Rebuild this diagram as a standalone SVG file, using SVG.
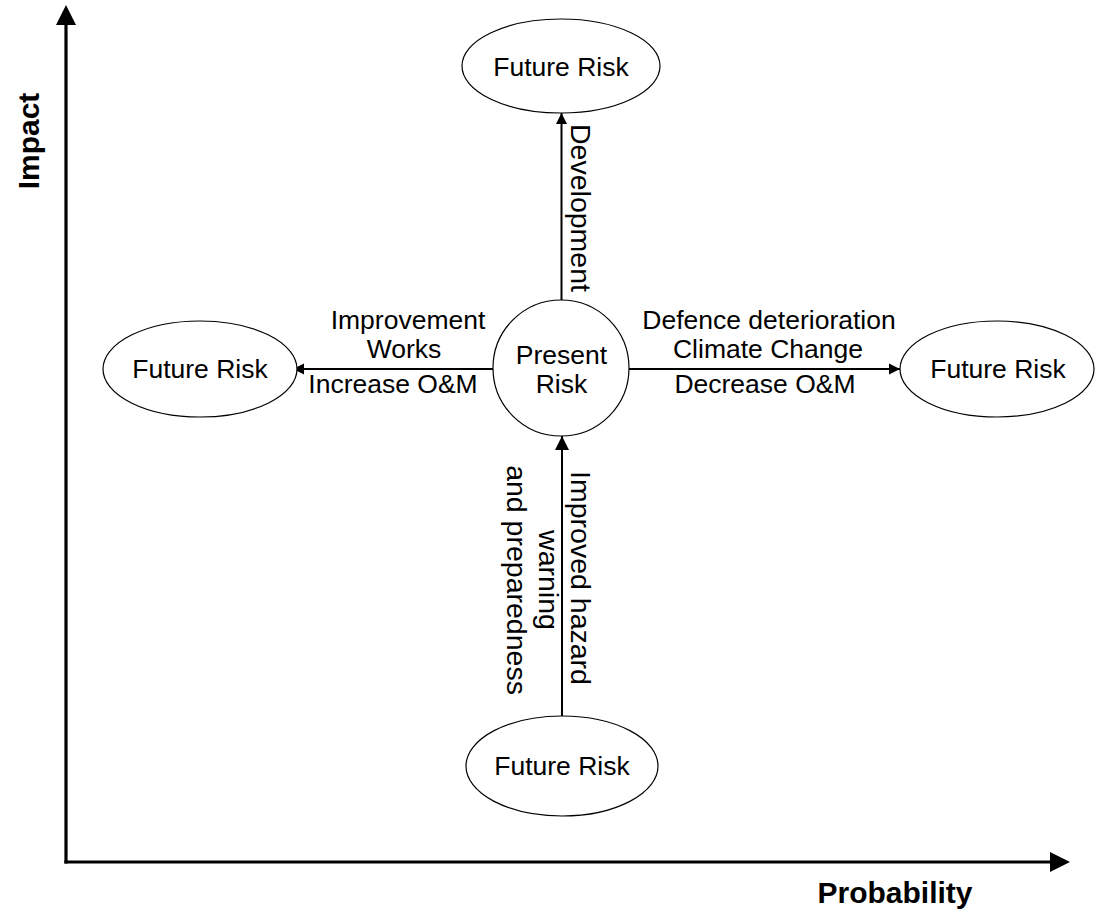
<svg xmlns="http://www.w3.org/2000/svg" width="1096" height="921" viewBox="0 0 1096 921">
  <defs>
    <style>
      .node { fill: #ffffff; stroke: #000000; stroke-width: 1.2; }
      .lbl { font-family: "Liberation Sans", Arial, sans-serif; font-size: 26.5px; fill: #000000; text-anchor: middle; }
      .vlbl { font-family: "Liberation Sans", Arial, sans-serif; font-size: 28.5px; fill: #000000; text-anchor: middle; }
      .axis-lbl { font-family: "Liberation Sans", Arial, sans-serif; font-size: 30px; font-weight: bold; fill: #000000; text-anchor: middle; }
      .axis { stroke: #000000; stroke-width: 3.2; fill: none; }
      .conn { stroke: #000000; stroke-width: 2; fill: none; }
    </style>
    <marker id="arrow" viewBox="0 0 10 10" refX="10" refY="5" markerWidth="5.5" markerHeight="6" markerUnits="strokeWidth" orient="auto">
      <path d="M0,0 L10,5 L0,10 z" fill="#000000"/>
    </marker>
    <marker id="arrow-big" viewBox="0 0 10 10" refX="10" refY="5" markerWidth="7" markerHeight="7.5" markerUnits="strokeWidth" orient="auto">
      <path d="M0,0 L10,5 L0,10 z" fill="#000000"/>
    </marker>
  </defs>

  <!-- axes -->
  <g id="axes">
    <line class="axis" x1="66" y1="863.5" x2="66" y2="24"/>
    <polygon points="66,5 56,25 76,25" fill="#000000"/>
    <line class="axis" x1="64.4" y1="862" x2="1051" y2="862"/>
    <polygon points="1070,862 1050,852 1050,872" fill="#000000"/>
    <text class="axis-lbl" transform="translate(39,141) rotate(-90)">Impact</text>
    <text class="axis-lbl" x="895" y="903">Probability</text>
  </g>

  <!-- connectors -->
  <g id="connectors">
    <line class="conn" x1="561.5" y1="300" x2="561.5" y2="113" marker-end="url(#arrow)"/>
    <line class="conn" x1="493" y1="369" x2="293" y2="369" marker-end="url(#arrow)"/>
    <line class="conn" x1="629" y1="369" x2="900" y2="369" marker-end="url(#arrow)"/>
    <line class="conn" x1="562" y1="716" x2="562" y2="436" marker-end="url(#arrow-big)"/>

    <text class="vlbl" transform="translate(571,208) rotate(90)">Development</text>

    <text class="lbl" x="408" y="329">Improvement</text>
    <text class="lbl" x="404" y="358">Works</text>
    <text class="lbl" x="393" y="393">Increase O&amp;M</text>

    <text class="lbl" x="769" y="329">Defence deterioration</text>
    <text class="lbl" x="768" y="358">Climate Change</text>
    <text class="lbl" x="765" y="393">Decrease O&amp;M</text>

    <text class="vlbl" transform="translate(571,578) rotate(90)">Improved hazard</text>
    <text class="vlbl" transform="translate(539,580) rotate(90)">warning</text>
    <text class="vlbl" transform="translate(507,580) rotate(90)">and preparedness</text>
  </g>

  <!-- nodes -->
  <g id="present-risk">
    <circle class="node" cx="561" cy="368" r="68"/>
    <text class="lbl" x="561.5" y="364">Present</text>
    <text class="lbl" x="561.5" y="393">Risk</text>
  </g>
  <g id="future-risk-top">
    <ellipse class="node" cx="561" cy="66" rx="99" ry="47"/>
    <text class="lbl" x="561" y="75.5">Future Risk</text>
  </g>
  <g id="future-risk-left">
    <ellipse class="node" cx="200" cy="369" rx="97" ry="48"/>
    <text class="lbl" x="200" y="378">Future Risk</text>
  </g>
  <g id="future-risk-right">
    <ellipse class="node" cx="997" cy="369" rx="97" ry="48"/>
    <text class="lbl" x="998" y="378">Future Risk</text>
  </g>
  <g id="future-risk-bottom">
    <ellipse class="node" cx="562" cy="766" rx="96" ry="50"/>
    <text class="lbl" x="562" y="775">Future Risk</text>
  </g>
</svg>
